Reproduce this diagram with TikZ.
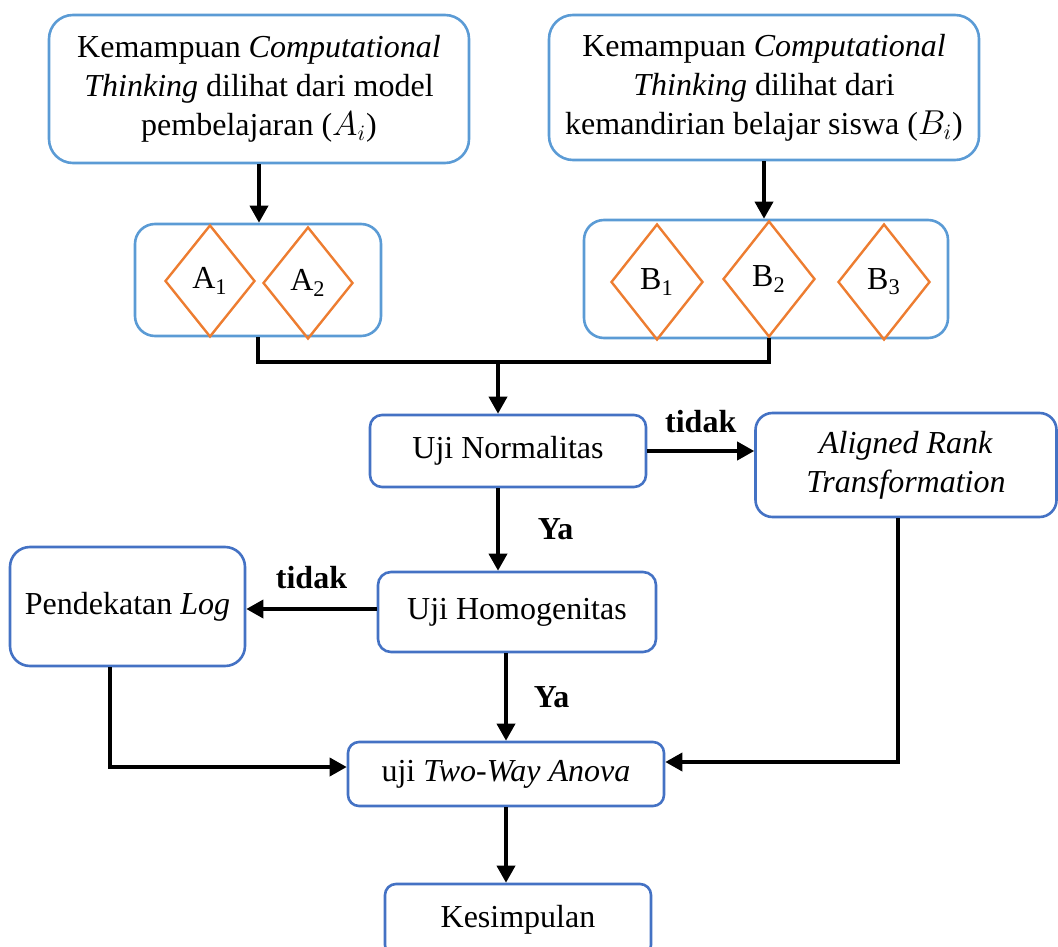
\documentclass[tikz,border=0pt]{standalone}
\usepackage{fontspec}
\setmainfont{Liberation Serif}
\usepackage{tikz}
\usetikzlibrary{arrows.meta,positioning,shapes.geometric,calc}
\definecolor{lblue}{RGB}{91,155,213}
\definecolor{dblue}{RGB}{68,114,196}
\definecolor{orng}{RGB}{237,125,49}

\begin{document}
\begin{tikzpicture}[x=0.5pt,y=-0.5pt,
  font=\fontsize{16}{19.5}\selectfont,
  top/.style={draw=lblue,line width=1.3pt,rounded corners=12pt,align=center,inner sep=0pt},
  grp/.style={draw=lblue,line width=1.3pt,rounded corners=10pt,inner sep=0pt},
  dia/.style={diamond,draw=orng,line width=1.2pt,inner sep=0pt},
  blk/.style={draw=dblue,line width=1.3pt,rounded corners=#1,align=center,inner sep=0pt},
  blk/.default=6pt,
  arr/.style={-{Triangle[length=8.5pt,width=9pt]},line width=1.8pt},
  lin/.style={line width=1.8pt},
  lab/.style={font=\fontsize{16}{19.5}\selectfont\bfseries,inner sep=0pt}]
\useasboundingbox (0,0) rectangle (1058,946);
\clip (0,0) rectangle (1058,946);
% sources
\node[top,minimum width=210pt,minimum height=74pt] (topA) at (259,89) {Kemampuan \textit{Computational}\\\textit{Thinking} dilihat dari model\\pembelajaran ($A_i$)};
\node[top,minimum width=215pt,minimum height=72.5pt] (topB) at (764,87.5) {Kemampuan \textit{Computational}\\\textit{Thinking} dilihat dari\\kemandirian belajar siswa ($B_i$)};
% factor levels
\node[grp,minimum width=123pt,minimum height=56pt] (grpA) at (258,280) {};
\node[grp,minimum width=182pt,minimum height=59pt] (grpB) at (766,279) {};
\node[dia,minimum width=45pt,minimum height=56pt] (a1) at (210,281) {A\textsubscript{1}};
\node[dia,minimum width=45pt,minimum height=56pt] (a2) at (308,283) {A\textsubscript{2}};
\node[dia,minimum width=46pt,minimum height=58pt] (b1) at (657,282) {B\textsubscript{1}};
\node[dia,minimum width=46pt,minimum height=58pt] (b2) at (769,279) {B\textsubscript{2}};
\node[dia,minimum width=46pt,minimum height=58pt] (b3) at (884,282) {B\textsubscript{3}};
\coordinate (mrg) at (498,362);
% tests
\node[blk,minimum width=138pt,minimum height=36pt] (norm) at (508,451) {Uji Normalitas};
\node[blk=8.5pt,minimum width=150.5pt,minimum height=52pt] (art) at (906,465) {\textit{Aligned Rank}\\\textit{Transformation}};
\node[blk=6.5pt,minimum width=139pt,minimum height=40pt] (homog) at (517,612) {Uji Homogenitas};
\node[blk=10pt,minimum width=117.5pt,minimum height=59.5pt] (logn) at (127.5,606.5) {Pendekatan \textit{Log}};
\node[blk=5.5pt,minimum width=158pt,minimum height=32pt] (anova) at (506,774) {uji \textit{Two-Way Anova}};
\node[blk=5.5pt,minimum width=133pt,minimum height=36pt] (kes) at (518,920) {Kesimpulan};
% connectors
\draw[arr] (topA.south) -- (topA.south |- grpA.north);
\draw[arr] (topB.south) -- (topB.south |- grpB.north);
\draw[lin] (grpA.south) |- (mrg) -| (b2.south);
\draw[arr] (mrg) -- (mrg |- norm.north);
\draw[arr] (norm.east) -- node[lab,above=8pt]{tidak} (norm.east -| art.west);
\draw[arr] (mrg |- norm.south) -- node[lab,right=19pt]{Ya} (mrg |- homog.north);
\draw[arr] ([yshift=1.5pt]homog.west) -- node[lab,above=9pt]{tidak} ([yshift=1.5pt]homog.west -| logn.east);
\draw[arr] (anova.north |- homog.south) -- node[lab,right=13pt]{Ya} (anova.north);
\draw[arr] ([xshift=-8.75pt]logn.south) |- ([yshift=3.5pt]anova.west);
\draw[arr] ([xshift=-4pt]art.south) |- ([yshift=6pt]anova.east);
\draw[arr] (anova.south) -- (anova.south |- kes.north);
\end{tikzpicture}
\end{document}
